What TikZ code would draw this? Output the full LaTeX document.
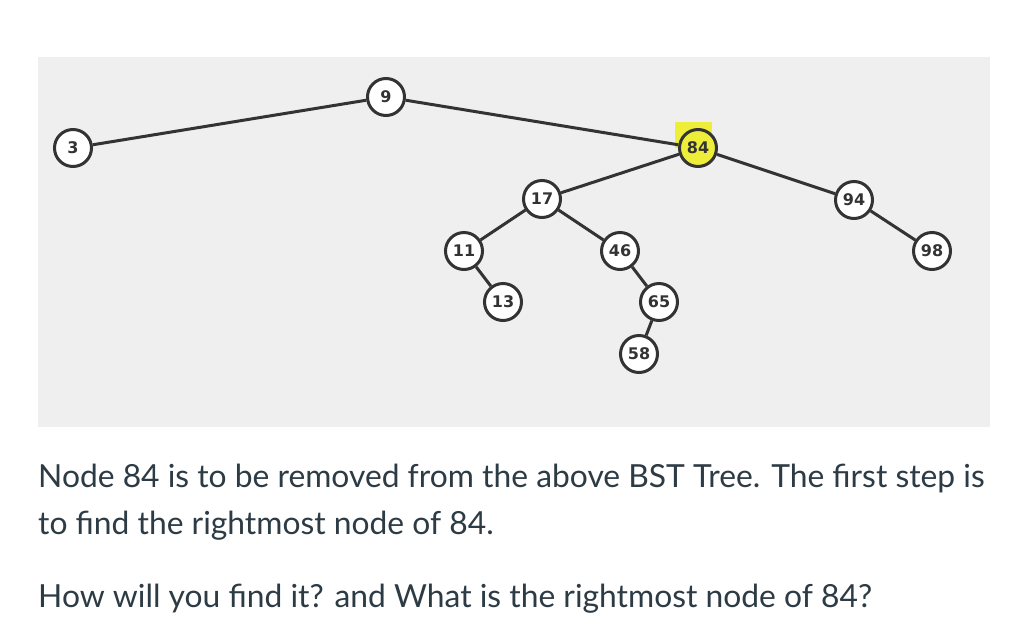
\documentclass[tikz,border=0pt]{standalone}
\usepackage{fontspec}
\setmainfont{Lato}
\newfontfamily\nodefont{DejaVu Sans}
\definecolor{panel}{HTML}{EFEFEF}
\definecolor{ink}{HTML}{2D3B45}
\definecolor{edge}{HTML}{333333}
\definecolor{hl}{HTML}{EEEE3A}
\begin{document}
\begin{tikzpicture}[x=1pt,y=-1pt,
  tnode/.style={circle,draw=edge,line width=3pt,fill=white,minimum size=37pt,inner sep=0pt,
    font=\nodefont\bfseries\fontsize{16}{17}\selectfont,text=edge},
  link/.style={draw=edge,line width=3pt},
  para/.style={anchor=base west,inner sep=0pt,text=ink,font=\fontsize{31.8}{36}\selectfont}]
\useasboundingbox (0,0) rectangle (1018,638);
\fill[white] (0,0) rectangle (1018,638);
\fill[panel] (38,57) rectangle (990,427);
\fill[hl] (675,122) rectangle (712,148);
\node[tnode] (n3) at (73,148) {3};
\node[tnode] (n9) at (386,97) {9};
\node[tnode,fill=hl] (n84) at (698,148) {84};
\node[tnode] (n17) at (542,199) {17};
\node[tnode] (n11) at (464,251) {11};
\node[tnode] (n46) at (620,251) {46};
\node[tnode] (n13) at (503,302) {13};
\node[tnode] (n65) at (659,302) {65};
\node[tnode] (n58) at (639,354) {58};
\node[tnode] (n94) at (854,200) {94};
\node[tnode] (n98) at (932,251) {98};
\path[link] (n9) -- (n3);
\path[link] (n9) -- (n84);
\path[link] (n84) -- (n17);
\path[link] (n84) -- (n94);
\path[link] (n17) -- (n11);
\path[link] (n17) -- (n46);
\path[link] (n11) -- (n13);
\path[link] (n46) -- (n65);
\path[link] (n65) -- (n58);
\path[link] (n94) -- (n98);
\node[para] (t1) at (38,487) {Node 84 is to be removed from the above BST Tree. The first step is};
\node[para] (t2) at (38,534) {to find the rightmost node of 84.};
\node[para] (t3) at (38,607) {How will you find it? and What is the rightmost node of 84?};
\end{tikzpicture}
\end{document}
